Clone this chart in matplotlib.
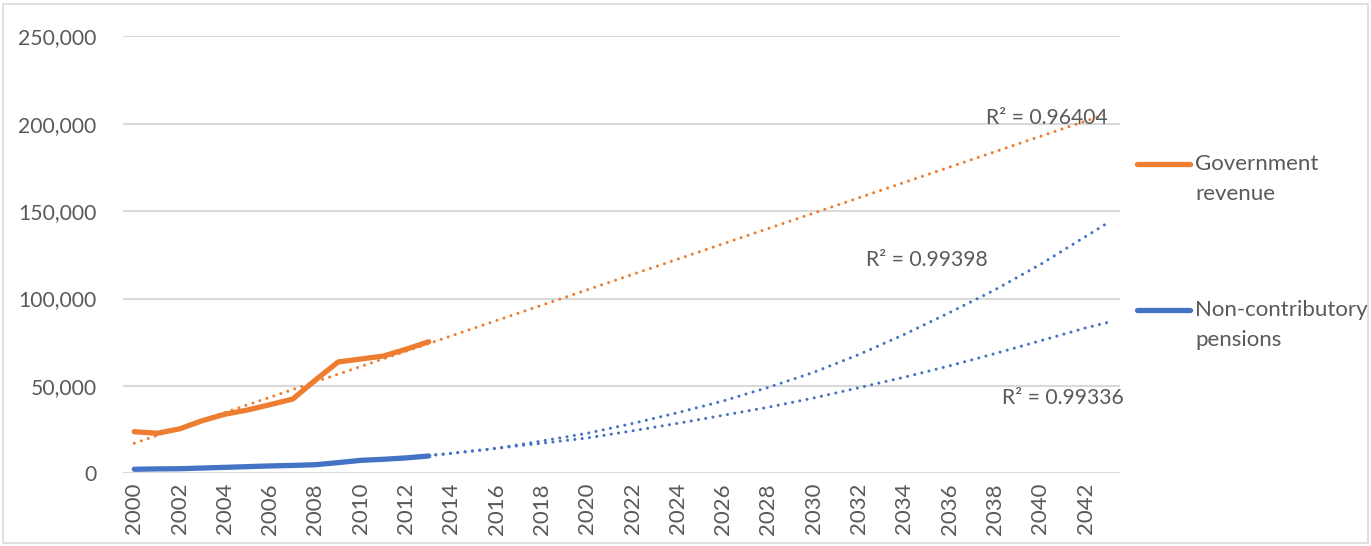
import numpy as np
import matplotlib.pyplot as plt
from matplotlib.lines import Line2D
from matplotlib.patches import Rectangle
from matplotlib.ticker import FuncFormatter


# Données observées 2000-2013
years = list(range(2000, 2014))
gov_revenue = [23800, 22900, 25400, 30100, 33800, 36200, 39300, 42500,
               53400, 63700, 65400, 67100, 71000, 75300]
pensions = [2300, 2500, 2600, 3000, 3400, 3800, 4200, 4500,
            4900, 6100, 7400, 8000, 8800, 9900]

# Courbes de tendance (prolongées jusqu'en 2043)
trend_gov_years = [2000, 2043]
trend_gov = [17200, 206000]

trend_years = [2000, 2004, 2008, 2012, 2014, 2016, 2018, 2020, 2022, 2024, 2026,
               2028, 2030, 2032, 2034, 2036, 2038, 2040, 2042, 2043]
trend_pens_high = [2400, 3200, 5000, 8800, 11400, 14300, 18500, 22900, 28500, 34700, 41400,
                   49200, 57800, 68000, 79500, 92000, 105000, 119500, 135500, 143500]
trend_pens_low = [2400, 3300, 5200, 9000, 11400, 14300, 17200, 20200, 24300, 28600, 33200,
                  37800, 43100, 49000, 55000, 61500, 68500, 75800, 83200, 86400]

r2_labels = ["R² = 0.96404", "R² = 0.99398", "R² = 0.99336"]
series_labels = ["Government\nrevenue", "Non-contributory\npensions"]

ORANGE = "#ED7D31"
BLUE = "#4472C4"
TEXT = "#595959"
GRID = "#D9D9D9"
FS = 15.2

plt.rcParams["font.family"] = ["Lato", "DejaVu Sans"]

fig = plt.figure(figsize=(13.71, 5.46), dpi=100)
ax = fig.add_axes([0.0897, 0.1332, 0.7269, 0.8])

# Tendances en pointillés
dotted = dict(lw=2.2, linestyle=(0, (0.01, 2.4)), dash_capstyle="round")
ax.plot(trend_gov_years, trend_gov, color=ORANGE, **dotted)
ax.plot(trend_years, trend_pens_high, color=BLUE, **dotted)
ax.plot(trend_years, trend_pens_low, color=BLUE, **dotted)

# Séries observées
ax.plot(years, gov_revenue, color=ORANGE, lw=3.8, solid_capstyle="round", solid_joinstyle="round")
ax.plot(years, pensions, color=BLUE, lw=3.8, solid_capstyle="round", solid_joinstyle="round")

ax.set_xlim(1999.5, 2043.5)
ax.set_ylim(0, 250000)
ax.set_xticks(range(2000, 2043, 2))
ax.set_yticks(range(0, 250001, 50000))
ax.yaxis.set_major_formatter(FuncFormatter(lambda v, p: f"{v:,.0f}"))
ax.tick_params(axis="x", rotation=90, length=0, pad=7, labelsize=FS + 0.8, labelcolor=TEXT)
ax.tick_params(axis="y", length=0, pad=19, labelsize=FS, labelcolor=TEXT)
ax.grid(axis="y", color=GRID, lw=1.5)
ax.set_axisbelow(True)
for s in ax.spines.values():
    s.set_visible(False)

# Étiquettes R²
ax.text(2040.3, 203500, r2_labels[0], fontsize=FS, color=TEXT, ha="center", va="center")
ax.text(2035.0, 122000, r2_labels[1], fontsize=FS, color=TEXT, ha="center", va="center")
ax.text(2041.0, 43000, r2_labels[2], fontsize=FS, color=TEXT, ha="center", va="center")

# Légende manuelle à droite
legend_y = [1 - 164 / 546, 1 - 310 / 546]
for y, col, lab in zip(legend_y, [ORANGE, BLUE], series_labels):
    fig.add_artist(Line2D([1137 / 1371, 1190 / 1371], [y, y], color=col, lw=3.8,
                          solid_capstyle="round", transform=fig.transFigure))
    fig.text(1195 / 1371, y + 10 / 546, lab, fontsize=16, color=TEXT,
             ha="left", va="top", linespacing=1.6)

# Bordure du graphique
fig.add_artist(Rectangle((3 / 1371, 3 / 546), 1 - 6 / 1371, 1 - 7 / 546, transform=fig.transFigure,
                         fill=False, edgecolor=GRID, lw=1.2))

plt.savefig("out.png", dpi=100)
plt.close()
